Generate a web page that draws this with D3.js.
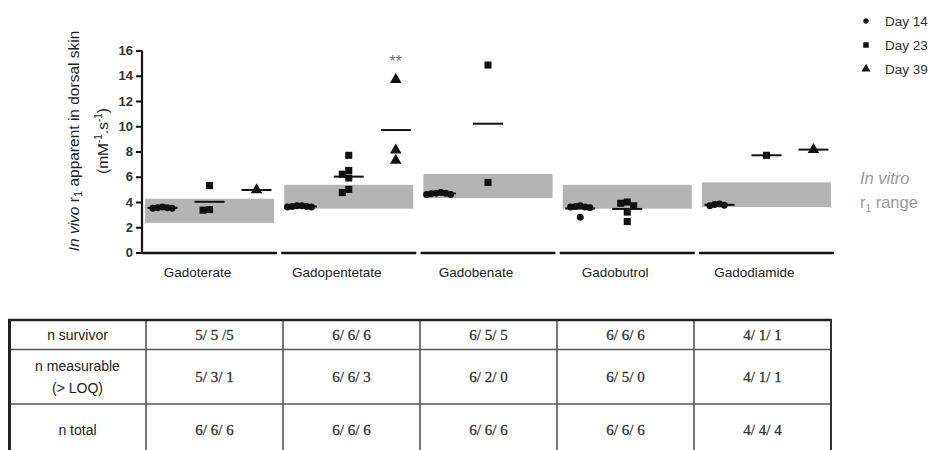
<!DOCTYPE html>
<html><head><meta charset="utf-8">
<script src="https://cdn.jsdelivr.net/npm/d3@7"></script>
<style>
body{margin:0;background:#fff;}
svg{display:block;}
</style></head>
<body><svg id="c" width="939" height="450"></svg>
<script>
// ---------- data ----------
const groups = ["Gadoterate","Gadopentetate","Gadobenate","Gadobutrol","Gadodiamide"];
const days = ["Day 14","Day 23","Day 39"];
const yTicks = [0,2,4,6,8,10,12,14,16];
// in vitro r1 range per agent
const vitroLow  = [2.35, 3.47, 4.31, 3.47, 3.60];
const vitroHigh = [4.26, 5.36, 6.22, 5.36, 5.55];
// individual values: [group][day]
const day14 = [
  [3.50, 3.55, 3.60, 3.50, 3.55],
  [3.60, 3.65, 3.70, 3.60, 3.65, 3.70],
  [4.60, 4.70, 4.65, 4.75, 4.60, 4.70],
  [3.60, 3.65, 3.70, 3.55, 3.60, 2.80],
  [3.70, 3.80, 3.75, 3.85]
];
const day23 = [
  [5.30, 3.35, 3.40],
  [7.70, 6.20, 6.50, 5.90, 5.00, 4.75],
  [14.85, 5.55],
  [3.90, 4.00, 3.70, 3.20, 2.45],
  [7.70]
];
const day39 = [
  [4.95],
  [13.70, 8.10, 7.30],
  [],
  [],
  [8.15]
];
const signif = [{group:"Gadopentetate", day:"Day 39", label:"**"}];
const rowLabels = [["n survivor"],["n measurable","(> LOQ)"],["n total"]];
const nSurvivor   = ["5/ 5 /5","6/ 6/ 6","6/ 5/ 5","6/ 6/ 6","4/ 1/ 1"];
const nMeasurable = ["5/ 3/ 1","6/ 6/ 3","6/ 2/ 0","6/ 5/ 0","4/ 1/ 1"];
const nTotal      = ["6/ 6/ 6","6/ 6/ 6","6/ 6/ 6","6/ 6/ 6","4/ 4/ 4"];

// ---------- chart ----------
const svg = d3.select("#c");
const SANS = "Arial, 'Liberation Sans', sans-serif";
const y = d3.scaleLinear().domain([0,16]).range([252.5,50.5]);
const x = d3.scaleBand().domain(groups).range([142,834]).paddingInner(0.03).paddingOuter(0);
const bw = x.bandwidth();
const xs = d3.scalePoint().domain(days).range([bw/2-47, bw/2+47]);
const symbols = {"Day 14":d3.symbolCircle,"Day 23":d3.symbolSquare,"Day 39":d3.symbolTriangle};
const symSize = {"Day 14":38,"Day 23":50,"Day 39":58};
const symStep = {"Day 14":4.8,"Day 23":6.5,"Day 39":6.5};
const seriesByDay = {"Day 14":day14,"Day 23":day23,"Day 39":day39};

// gray in vitro bands
svg.append("g").selectAll("rect").data(groups).join("rect")
  .attr("x", g => x(g)+bw/2-64.5)
  .attr("width", 129)
  .attr("y", (g,i) => y(vitroHigh[i]))
  .attr("height", (g,i) => y(vitroLow[i]) - y(vitroHigh[i]))
  .attr("fill", "#b4b4b4");

// y axis
const yAxis = svg.append("g").attr("transform","translate(142,0)")
  .call(d3.axisLeft(y).tickValues(yTicks).tickSize(6).tickPadding(3).tickFormat(d3.format("d")));
yAxis.select(".domain").attr("stroke","#111").attr("stroke-width",2.2).attr("d","M0,50.5V253.5");
yAxis.selectAll(".tick line").attr("stroke","#111").attr("stroke-width",2);
yAxis.selectAll(".tick text").attr("font-family",SANS)
  .attr("font-size",13).attr("font-weight","bold").attr("fill","#333");

// x axis segments
svg.append("g").selectAll("line").data(groups).join("line")
  .attr("x1", g => x(g)).attr("x2", g => x(g)+bw)
  .attr("y1", y(0)+0.5).attr("y2", y(0)+0.5)
  .attr("stroke","#111").attr("stroke-width",2.4);

svg.append("g").selectAll("text").data(groups).join("text")
  .attr("x", g => x(g)+bw/2-12).attr("y", 277)
  .attr("text-anchor","middle")
  .attr("font-family",SANS)
  .attr("font-size",13.5).attr("fill","#222")
  .text(g => g);

// points with deterministic collision spreading
function spread(vals, cx, step){
  const sorted = vals.map((v,i)=>({v,i})).sort((a,b)=>b.v-a.v);
  const placed = [];
  const minD = step;
  sorted.forEach(p=>{
    const py = y(p.v);
    const offs = [0,-step,step,-2*step,2*step,-3*step,3*step];
    let px = cx;
    for(const o of offs){
      const cand = cx+o;
      if(placed.every(q => Math.hypot(q.x-cand,q.y-py) >= minD)){ px = cand; break; }
    }
    placed.push({x:px,y:py,v:p.v});
  });
  return placed;
}

const pts = svg.append("g");
const means = svg.append("g");
groups.forEach((g,gi)=>{
  days.forEach(d=>{
    const vals = seriesByDay[d][gi];
    if(!vals.length) return;
    const cx = x(g)+xs(d);
    const m = d3.mean(vals);
    means.append("line").attr("x1",cx-15).attr("x2",cx+15)
      .attr("y1",y(m)).attr("y2",y(m)).attr("stroke","#111").attr("stroke-width",2);
    pts.selectAll(null).data(spread(vals,cx,symStep[d])).join("path")
      .attr("transform",p=>`translate(${p.x},${p.y})`)
      .attr("d", d3.symbol().type(symbols[d]).size(symSize[d]))
      .attr("fill","#111");
  });
});

// significance
signif.forEach(s=>{
  const gi = groups.indexOf(s.group);
  const mx = d3.max(seriesByDay[s.day][gi]);
  svg.append("text").attr("x", x(s.group)+xs(s.day)).attr("y", y(mx)-13)
    .attr("text-anchor","middle").attr("font-family",SANS)
    .attr("font-size",16).attr("fill","#6e6e6e").text(s.label);
});

// y label
const yl = svg.append("text").attr("transform","translate(79,141) rotate(-90)")
  .attr("text-anchor","middle").attr("font-family",SANS)
  .attr("font-size",15.5).attr("fill","#222");
yl.append("tspan").attr("font-style","italic").text("In vivo");
yl.append("tspan").text(" r");
yl.append("tspan").attr("font-size",11).attr("dy",3).text("1");
yl.append("tspan").attr("dy",-3).text(" apparent in dorsal skin");
const yl2 = svg.append("text").attr("transform","translate(108,141) rotate(-90)")
  .attr("text-anchor","middle").attr("font-family",SANS)
  .attr("font-size",15.5).attr("fill","#222");
yl2.append("tspan").text("(mM");
yl2.append("tspan").attr("font-size",10).attr("dy",-6).text("-1");
yl2.append("tspan").attr("dy",6).text(".s");
yl2.append("tspan").attr("font-size",10).attr("dy",-6).text("-1");
yl2.append("tspan").attr("dy",6).text(")");

// legend
const lg = svg.append("g").selectAll("g").data(days).join("g")
  .attr("transform",(d,i)=>`translate(866,${21+i*24})`);
lg.append("path").attr("d", d=>d3.symbol().type(symbols[d]).size(symSize[d]*0.6)()).attr("fill","#111");
lg.append("text").attr("x",19).attr("y",5).attr("font-family",SANS)
  .attr("font-size",13.5).attr("fill","#333").text(d=>d);

// in vitro note
svg.append("text").attr("x",860).attr("y",184).attr("font-family",SANS)
  .attr("font-size",16.5).attr("font-style","italic").attr("fill","#9a9a9a").text("In vitro");
const rr = svg.append("text").attr("x",860).attr("y",208).attr("font-family",SANS)
  .attr("font-size",16.5).attr("fill","#9a9a9a");
rr.append("tspan").text("r");
rr.append("tspan").attr("font-size",10).attr("dy",4).text("1");
rr.append("tspan").attr("dy",-4).text(" range");

// ---------- table ----------
const tc = d3.scaleBand().domain(["label",...groups]).range([9,831]);
const rowY = [320, 349.5, 404, 458];
const rowVals = [nSurvivor, nMeasurable, nTotal];
const tg = svg.append("g");
[1,2].forEach(r=>tg.append("line").attr("x1",9).attr("x2",831).attr("y1",rowY[r]).attr("y2",rowY[r])
  .attr("stroke","#555").attr("stroke-width",1.6));
groups.forEach(g=>tg.append("line").attr("x1",tc(g)).attr("x2",tc(g)).attr("y1",320).attr("y2",458)
  .attr("stroke","#555").attr("stroke-width",1.6));
tg.append("line").attr("x1",8).attr("x2",832).attr("y1",320).attr("y2",320).attr("stroke","#222").attr("stroke-width",2.5);
tg.append("line").attr("x1",9.5).attr("x2",9.5).attr("y1",319).attr("y2",458).attr("stroke","#222").attr("stroke-width",3);
tg.append("line").attr("x1",831).attr("x2",831).attr("y1",319).attr("y2",458).attr("stroke","#333").attr("stroke-width",2);

rowLabels.forEach((lab,r)=>{
  const cy = (rowY[r]+rowY[r+1])/2;
  const t = tg.append("text").attr("text-anchor","middle")
    .attr("font-family",SANS).attr("font-size",14).attr("fill","#222");
  const ly = r===2 ? 435 : cy + 5 - (lab.length-1)*11;
  lab.forEach((s,k)=>t.append("tspan").attr("x", tc("label")+tc.bandwidth()/2).attr("y", ly+k*22).text(s));
  groups.forEach((g,gi)=>{
    tg.append("text").attr("x", tc(g)+tc.bandwidth()/2).attr("y", r===2 ? 435 : cy+5)
      .attr("text-anchor","middle").attr("font-family","'Liberation Serif', 'Times New Roman', serif")
      .attr("font-size",15).attr("fill","#333").attr("stroke","#333").attr("stroke-width",0.3)
      .text(rowVals[r][gi]);
  });
});
</script></body></html>
